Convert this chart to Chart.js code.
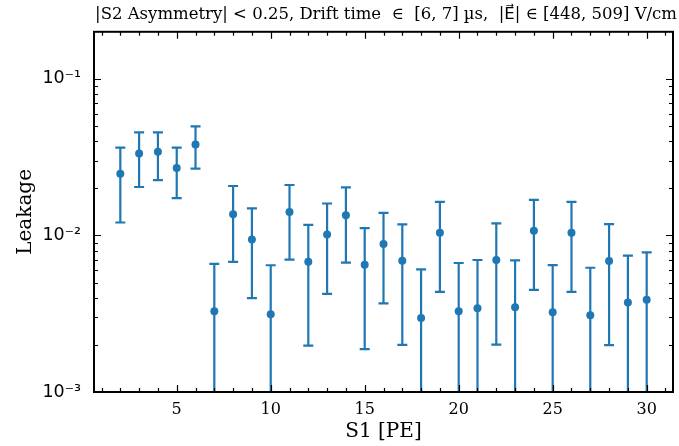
<!DOCTYPE html>
<html>
<head>
<meta charset="utf-8">
<script src="https://cdn.jsdelivr.net/npm/chart.js@4/dist/chart.umd.min.js"></script>
<style>
html,body{margin:0;padding:0;background:#fff;}
#wrap{width:679px;height:446px;position:relative;}
</style>
</head>
<body>
<div id="wrap"><canvas id="c" width="679" height="446"></canvas></div>
<script>
// ---- data ----
const s1 = [2,3,4,5,6,7,8,9,10,11,12,13,14,15,16,17,18,19,20,21,22,23,24,25,26,27,28,29,30];
const leakage = [0.0248,0.0334,0.0343,0.0270,0.0381,0.00328,0.01365,0.00942,0.00314,0.0141,
                 0.00679,0.01014,0.01346,0.0065,0.00883,0.0069,0.00297,0.0104,0.00328,0.00343,
                 0.00697,0.00348,0.01072,0.00323,0.0104,0.00309,0.00687,0.00373,0.00388];
const errUpper = [0.0364,0.0455,0.0455,0.0364,0.0497,0.00659,0.0207,0.0149,0.00645,0.0210,
                  0.01167,0.0160,0.0203,0.01115,0.01393,0.01178,0.00607,0.0164,0.00667,0.00697,
                  0.01194,0.00693,0.0169,0.00647,0.0164,0.00622,0.01182,0.00743,0.0078];
// 0 = lower end of the error bar falls to zero (below the axis)
const errLower = [0.0121,0.0204,0.0226,0.0173,0.0267,0,0.00679,0.00398,0,0.0070,
                  0.00198,0.00423,0.0067,0.00188,0.00368,0.0020,0,0.00436,0,0,
                  0.00201,0,0.00449,0,0.00436,0,0.00199,0,0];
const xTicks = [5,10,15,20,25,30];
const yTicks = [0.001,0.01,0.1];
const yTickLabels = ['10\u207B\u00B3','10\u207B\u00B2','10\u207B\u00B9'];
const titleText = '|S2 Asymmetry| < 0.25, Drift time  \u2208  [6, 7] \u00B5s,  |E\u20D7| \u2208 [448, 509] V/cm';

const COLOR = '#1f77b4';

const decor = {
  id: 'decor',
  beforeDatasetsDraw(chart) {
    const {ctx, chartArea: a, scales: {x, y}} = chart;
    ctx.save();
    ctx.beginPath();
    ctx.rect(a.left, a.top, a.right - a.left, a.bottom - a.top);
    ctx.clip();
    ctx.strokeStyle = COLOR;
    ctx.lineWidth = 2.2;
    const cap = 5;
    for (let i = 0; i < s1.length; i++) {
      const px = x.getPixelForValue(s1[i]);
      const pTop = y.getPixelForValue(errUpper[i]);
      const pBot = errLower[i] > 0 ? y.getPixelForValue(errLower[i]) : a.bottom + 10;
      ctx.beginPath();
      ctx.moveTo(px, pTop); ctx.lineTo(px, pBot);
      ctx.moveTo(px - cap, pTop); ctx.lineTo(px + cap, pTop);
      if (errLower[i] > 0) { ctx.moveTo(px - cap, pBot); ctx.lineTo(px + cap, pBot); }
      ctx.stroke();
    }
    ctx.restore();
  },
  afterDraw(chart) {
    const {ctx, chartArea: a, scales: {x, y}} = chart;
    ctx.save();
    ctx.strokeStyle = '#000';
    const major = 7, minor = 4;
    ctx.lineWidth = 1.2;
    ctx.beginPath();
    for (let v = 1; v <= 31; v++) {
      const px = Math.round(x.getPixelForValue(v)) + 0.5;
      const len = (v % 5 === 0) ? major : minor;
      ctx.moveTo(px, a.bottom); ctx.lineTo(px, a.bottom - len);
      ctx.moveTo(px, a.top); ctx.lineTo(px, a.top + len);
    }
    for (let e = -3; e <= -1; e++) {
      for (let k = 1; k <= 9; k++) {
        const v = k * Math.pow(10, e);
        if (e === -3 && k === 1) continue;
        if (v >= y.max * 0.9999) continue;
        const py = Math.round(y.getPixelForValue(v)) + 0.5;
        const len = (k === 1) ? major : minor;
        ctx.moveTo(a.left, py); ctx.lineTo(a.left + len, py);
        ctx.moveTo(a.right, py); ctx.lineTo(a.right - len, py);
      }
    }
    ctx.stroke();
    ctx.lineWidth = 2;
    ctx.strokeRect(a.left, a.top, a.right - a.left, a.bottom - a.top);
    ctx.restore();
  }
};

new Chart(document.getElementById('c'), {
  type: 'scatter',
  data: {
    datasets: [{
      data: s1.map((v, i) => ({x: v, y: leakage[i]})),
      backgroundColor: COLOR,
      borderColor: COLOR,
      borderWidth: 0,
      pointRadius: 4,
      pointHoverRadius: 4,
      showLine: false
    }]
  },
  options: {
    responsive: false,
    animation: false,
    events: [],
    layout: {padding: {left: 0, right: 2, top: 0, bottom: 0}},
    plugins: {
      legend: {display: false},
      tooltip: {enabled: false},
      title: {
        display: true,
        text: titleText,
        align: 'end',
        color: '#000',
        font: {family: "'DejaVu Serif', 'DejaVu Sans', 'Noto Sans', 'Liberation Serif', serif", size: 16.5, weight: 'normal', lineHeight: 1.2},
        padding: {top: 5, bottom: 7}
      }
    },
    scales: {
      x: {
        type: 'linear',
        min: 0.6, max: 31.4,
        grid: {display: false},
        border: {display: false},
        afterBuildTicks: (s) => { s.ticks = xTicks.map(v => ({value: v})); },
        afterFit: (s) => { s.height = 54; },
        ticks: {
          color: '#000',
          padding: 0,
          maxRotation: 0,
          font: {family: 'DejaVu Serif', size: 16},
          callback: (v) => String(v)
        },
        title: {
          display: true,
          text: 'S1 [PE]',
          color: '#000',
          font: {family: 'DejaVu Serif', size: 20, lineHeight: 1.2},
          padding: {top: 0, bottom: 2}
        }
      },
      y: {
        type: 'logarithmic',
        min: 0.001, max: 0.2,
        grid: {display: false},
        border: {display: false},
        afterBuildTicks: (s) => { s.ticks = yTicks.map(v => ({value: v})); },
        afterFit: (s) => { s.width = 94; },
        ticks: {
          color: '#000',
          padding: 5,
          font: {family: 'DejaVu Sans', size: 17.5},
          callback: (v) => { const i = yTicks.indexOf(v); return i >= 0 ? yTickLabels[i] : ''; }
        },
        title: {
          display: true,
          text: 'Leakage',
          color: '#000',
          font: {family: 'DejaVu Serif', size: 20, lineHeight: 1.2},
          padding: {top: 14, bottom: 0}
        }
      },
      y2: {
        type: 'linear',
        position: 'right',
        display: true,
        grid: {display: false},
        border: {display: false},
        ticks: {display: false},
        afterFit: (s) => { s.width = 4; }
      }
    }
  },
  plugins: [decor]
});
</script>
</body>
</html>
